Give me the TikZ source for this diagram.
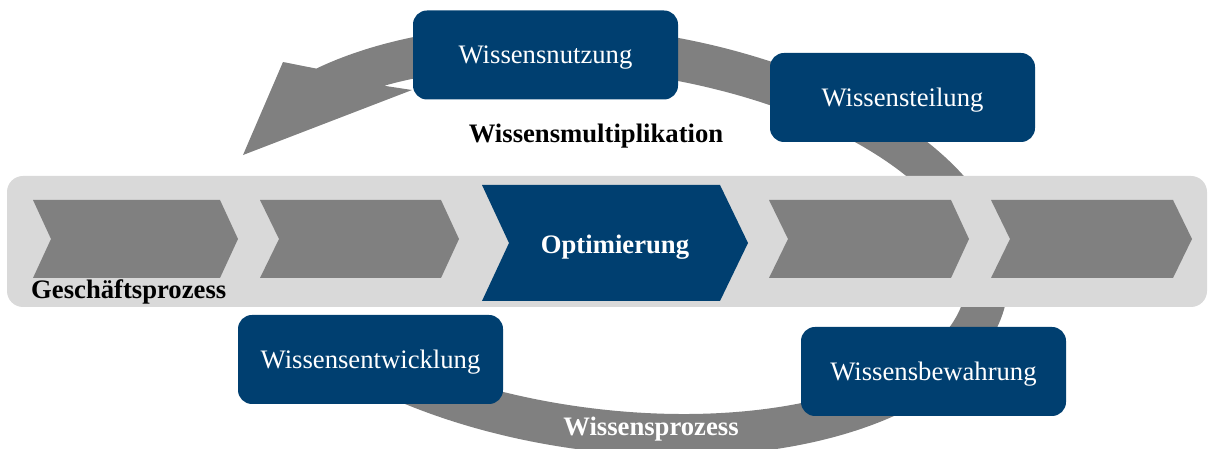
\documentclass[tikz,border=0pt]{standalone}
\usepackage{fontspec}
\setmainfont{Liberation Serif}
\definecolor{kblue}{RGB}{0,63,112}
\definecolor{kgray}{RGB}{128,128,128}
\definecolor{kband}{RGB}{217,217,217}

\begin{document}
\begin{tikzpicture}[x=1pt,y=1pt,
  lbl/.style={font=\fontsize{26.67}{30}\selectfont, inner sep=0pt},
  stage/.style={rectangle, rounded corners=14pt, fill=kblue, text=white,
    minimum width=265pt, minimum height=89pt, text height=18.5pt,
    text depth=0.5pt, inner sep=0pt, lbl},
  chev/.style={fill=kgray},
  ring/.style={fill=kgray},
  band/.style={fill=kband, rounded corners=16pt}]

\useasboundingbox (0,0) rectangle (1208,449);

% knowledge cycle: elliptic ring ending in an arrow head
\begin{scope}[shift={(609,208.5)}, rotate=-7.4]
  \coordinate (rs) at (-130:402 and 211);
  \coordinate (on) at (141:402 and 211);
  \coordinate (in) at (132.4:360.3 and 168.6);
\end{scope}
\coordinate (b1) at (283,387);
\coordinate (tip) at (243,294);
\coordinate (b2) at (412,359);
\begin{scope}[rotate=-7.4]
  \fill[ring] (rs) arc[start angle=-130, end angle=141, x radius=402, y radius=211]
    -- (b1) -- (tip) -- (b2) -- (in)
    arc[start angle=132.4, end angle=-130, x radius=360.3, y radius=168.6]
    -- cycle;
\end{scope}

% business process band
\fill[band] (7,142) rectangle (1207,273);

% process steps
\fill[chev] (33,249) -- (220,249) -- (238,210) -- (220,171) -- (33,171) -- (51,210) -- cycle;
\fill[chev] (260,249) -- (441,249) -- (459,210) -- (441,171) -- (260,171) -- (279,210) -- cycle;
\fill[kblue] (482,264) -- (720,264) -- (748,206) -- (720,148) -- (482,148) -- (509,206) -- cycle;
\fill[chev] (769,249) -- (951,249) -- (969,210) -- (951,171) -- (769,171) -- (788,210) -- cycle;
\fill[chev] (991,249) -- (1173,249) -- (1192,210) -- (1173,171) -- (991,171) -- (1010,210) -- cycle;

\node[lbl, text=white, anchor=base] (opt) at (615,195) {\bfseries Optimierung};
\node[lbl, anchor=base west] (gp) at (31,150) {\bfseries Geschäftsprozess};

% knowledge activities
\node[stage] (nutz) at (545.5,394) {Wissensnutzung};
\node[stage] (teil) at (902.5,351.5) {Wissensteilung};
\node[stage] (entw) at (370.5,89.5) {Wissensentwicklung};
\node[stage] (bew) at (933.5,77.5) {Wissensbewahrung};

\node[lbl, anchor=base] (mult) at (596,306) {\bfseries Wissensmultiplikation};
\node[lbl, text=white, anchor=base] (wp) at (651,13) {\bfseries Wissensprozess};
\end{tikzpicture}
\end{document}
